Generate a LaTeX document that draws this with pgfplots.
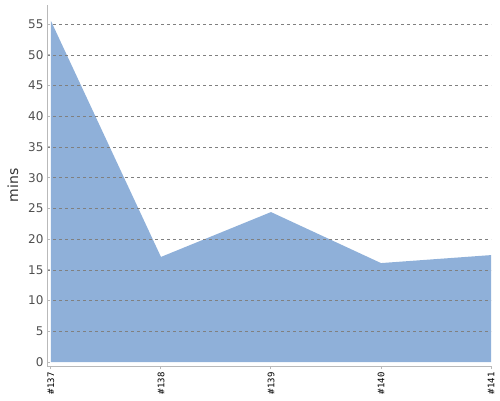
\documentclass[border=0pt]{standalone}
\usepackage{fontspec}
\setmainfont{DejaVu Sans}
\setmonofont{DejaVu Sans Mono}
\usepackage{pgfplots}
\pgfplotsset{compat=1.18}
\definecolor{areablue}{RGB}{143,176,217}
\definecolor{axisgray}{RGB}{185,185,185}
\definecolor{labgray}{RGB}{80,80,80}

\begin{document}
\begin{tikzpicture}
\useasboundingbox (0,0) rectangle (500pt,400pt);
\begin{axis}[
    at={(47pt,34pt)}, anchor=south west,
    scale only axis,
    width=444pt, height=361pt,
    xmin=-0.036, xmax=4,
    ymin=-0.65, ymax=58.1,
    axis x line*=bottom,
    axis y line*=left,
    axis line style={axisgray, line width=1pt, -},
    xtick={0,1,2,3,4},
    xticklabels={\#137,\#138,\#139,\#140,\#141},
    xticklabel style={rotate=90, anchor=east, font=\ttfamily\fontsize{9}{10}\selectfont, text=black},
    ytick={5,10,...,55},
    extra y ticks={0},
    extra tick style={grid=none},
    yticklabel style={font=\fontsize{12}{14}\selectfont, text=labgray},
    /pgf/number format/assume math mode=true,
    ylabel={mins},
    ylabel style={font=\fontsize{14}{16}\selectfont, text=black!80, at={(axis description cs:0,0.5)}, anchor=center, yshift=34pt},
    ymajorgrids,
    major grid style={gray, dashed, line width=0.5pt},
    tick style={axisgray, line width=1pt},
    major tick length=3pt,
    xtick align=outside,
    ytick align=inside,
    axis on top,
    clip=false,
]
\addplot[fill=areablue, draw=none] coordinates {
    (0,55.5) (1,17.1) (2,24.4) (3,16.1) (4,17.4)
} \closedcycle;
\end{axis}
\end{tikzpicture}
\end{document}
